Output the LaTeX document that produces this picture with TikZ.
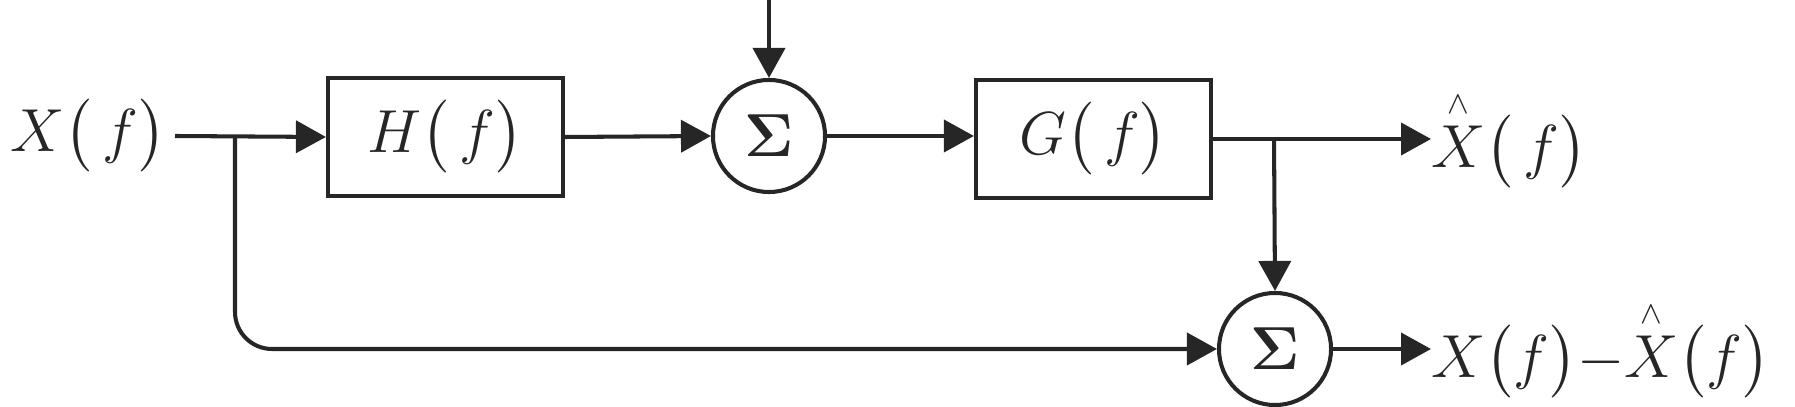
\documentclass[tikz,border=0pt]{standalone}
\usepackage{amsmath}
\usepackage{bm}
\usetikzlibrary{arrows.meta}

\tikzset{
    sig/.style={line width=1.15pt, draw=black!85, -{Triangle[length=0.3cm,width=0.32cm]}},
    blk/.style={draw=black!85, line width=1.15pt, minimum width=2.35cm, minimum height=1.18cm, inner sep=0pt},
    summer/.style={draw=black!85, line width=1.15pt, circle, minimum size=1.12cm, inner sep=0pt},
    lbl/.style={inner sep=0pt}
}

\begin{document}
\begin{tikzpicture}[x=0.01cm, y=-0.01cm, font=\fontsize{19}{21}\selectfont, text=black!85]
                \useasboundingbox (0,0) rectangle (1795,407);
                \node[lbl, anchor=west] (xin) at (10,136) {$X\big(\,f\big)$};
                \node[blk] (H) at (445.5,137) {$H\big(\,f\big)$};
                \node[summer] (sum1) at (769,136) {$\bm{\Sigma}$};
                \node[blk] (G) at (1093.5,139) {$G\big(\,f\big)$};
                \node[summer] (sum2) at (1275,349) {$\bm{\Sigma}$};
                \node[lbl, anchor=west] (xhat) at (1431,139) {$\overset{\scriptscriptstyle\wedge}{X}\big(\,f\big)$};
                \node[lbl, anchor=west] (err) at (1431,349) {$X\big(f\big){-}\overset{\scriptscriptstyle\wedge}{X}\big(f\big)$};
                \coordinate (top) at (769,0);
                \coordinate (c1) at (235,136);
                \coordinate (c2) at (1274,139);
                \coordinate (xout) at (175,136);
                \draw[sig] (xout) -- (H.west);
                \draw[sig] (H.east) -- (sum1.west);
                \draw[sig] (top) -- (sum1.north);
                \draw[sig] (sum1.east) -- (G.west |- sum1.east);
                \draw[sig] (G.east) -- (xhat.west);
                \draw[sig] (c2) -- (sum2.north);
                \draw[sig, rounded corners=0.37cm] (c1) |- (sum2.west);
                \draw[sig] (sum2.east) -- (err.west);
            \end{tikzpicture}
\end{document}
